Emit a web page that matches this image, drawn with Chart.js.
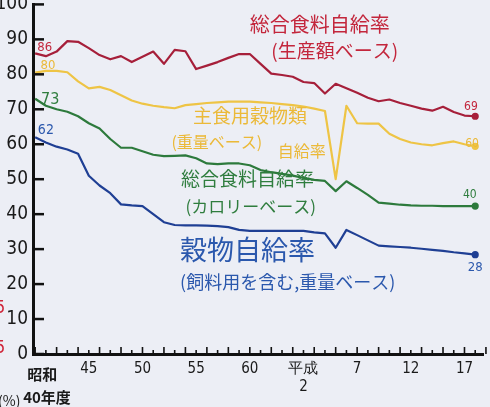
<!DOCTYPE html>
<html>
<head>
<meta charset="utf-8">
<script src="https://cdn.jsdelivr.net/npm/chart.js@4.4.1/dist/chart.umd.min.js"></script>
<style>
  html, body { margin: 0; padding: 0; background: #eceef5; }
  #wrap { position: relative; width: 490px; height: 407px; overflow: hidden; }
  #chart { position: absolute; left: 0; top: -12px; }
</style>
</head>
<body>
<div id="wrap"><canvas id="chart" width="490" height="419"></canvas></div>
<script>
// 年度 (昭和40 = 1965 ... 平成18 = 2006)
const years = [1965, 1966, 1967, 1968, 1969, 1970, 1971, 1972, 1973, 1974,
  1975, 1976, 1977, 1978, 1979, 1980, 1981, 1982, 1983, 1984,
  1985, 1986, 1987, 1988, 1989, 1990, 1991, 1992, 1993, 1994,
  1995, 1996, 1997, 1998, 1999, 2000, 2001, 2002, 2003, 2004,
  2005, 2006];

// 総合食料自給率 (生産額ベース)
const valueBase = [86, 85.2, 86.5, 89.5, 89.3, 87.5, 85.5, 84.3, 85.2, 83.5,
  85, 86.5, 83, 87, 86.6, 81.5, 82.5, 83.5, 84.7, 85.8,
  85.8, 83, 80.2, 79.8, 79.3, 77.8, 77.5, 74.5, 77.3, 76,
  74.7, 73.3, 72.3, 72.8, 71.8, 71, 70.2, 69.6, 70.7, 69.2,
  68.2, 68];

// 主食用穀物類自給率 (重量ベース)
const stapleGrain = [80.5, 81, 81, 80.6, 78, 76, 76.4, 75.5, 74, 72.5,
  71.6, 71, 70.6, 70.3, 71.2, 71.5, 71.8, 72, 72.2, 72.2,
  72.2, 72, 71.8, 71.5, 71.2, 70.8, 70.2, 69.5, 50, 71,
  66, 65.9, 65.9, 63, 61.5, 60.5, 60, 59.7, 60.3, 60.8,
  60, 59.4];

// 総合食料自給率 (カロリーベース)
const calorieBase = [73, 71, 70, 69.3, 68, 66, 64.5, 61.5, 59, 59,
  58, 57, 56.6, 56.7, 56.8, 56, 54.5, 54.3, 54.5, 54.5,
  54, 52.6, 52, 51.5, 51, 50.4, 49.8, 49.5, 46.6, 49.4,
  47.5, 45.5, 43.3, 43, 42.7, 42.5, 42.4, 42.4, 42.3, 42.3,
  42.3, 42.3];

// 穀物自給率 (飼料用を含む, 重量ベース)
const grainAll = [62, 60.5, 59.3, 58.5, 57.3, 51, 48.2, 46, 42.8, 42.5,
  42.3, 40, 37.7, 36.9, 36.8, 36.8, 36.7, 36.6, 36.3, 35.5,
  35.2, 35.2, 35.2, 35.2, 35.2, 35.2, 34.8, 34.5, 30.4, 35.5,
  34, 32.5, 31, 30.8, 30.6, 30.4, 30.1, 29.8, 29.5, 29.1,
  28.8, 28.4];

const tickYears = [1970, 1975, 1980, 1985, 1990, 1995, 2000, 2005];
const tickNames = ['45', '50', '55', '60', ['平成', '2'], '7', '12', '17'];

const RED = '#a61f3a', YEL = '#eec445', GRN = '#2d7a3c', BLU = '#1f3f94';
const JP = "'Noto Sans CJK JP', sans-serif";
const NUM = "'Liberation Sans Narrow', 'DejaVu Sans Condensed', 'DejaVu Sans', sans-serif";

// 手書きの注記 (位置はデータ座標)
const notes = [
  { t: '総合食料自給率', x: 1985.0, y: 94.3, c: '#c3263c', s: 20 },
  { t: '(生産額ベース)', x: 1987.0, y: 86.6, c: '#c3263c', s: 19 },
  { t: '主食用穀物類', x: 1979.7, y: 68.2, c: '#ebb938', s: 19 },
  { t: '(重量ベース)', x: 1977.7, y: 60.8, c: '#ebb938', s: 16 },
  { t: '自給率', x: 1987.6, y: 58.2, c: '#ebb938', s: 16 },
  { t: '総合食料自給率', x: 1978.6, y: 50, c: '#2f7d3e', s: 19 },
  { t: '(カロリーベース)', x: 1979.0, y: 42.3, c: '#2f7d3e', s: 17 },
  { t: '穀物自給率', x: 1978.5, y: 29.8, c: '#2b58ad', s: 27 },
  { t: '(飼料用を含む,重量ベース)', x: 1978.5, y: 20.5, c: '#2b58ad', s: 18 },
  { t: '86', x: 1965.9, y: 87.5, c: '#c3263c', s: 13, a: 'center' },
  { t: '80', x: 1966.2, y: 82.4, c: '#ebb938', s: 13, a: 'center' },
  { t: '73', x: 1966.4, y: 72.7, c: '#2f7d3e', s: 16, a: 'center' },
  { t: '62', x: 1966.0, y: 63.9, c: '#2b58ad', s: 14, a: 'center' },
  { t: '69', x: 2005.6, y: 70.7, c: '#c3263c', s: 12, a: 'center' },
  { t: '60', x: 2005.7, y: 60.2, c: '#ebb938', s: 12, a: 'center' },
  { t: '40', x: 2005.5, y: 45.5, c: '#2f7d3e', s: 12, a: 'center' },
  { t: '28', x: 2006.0, y: 24.7, c: '#2b58ad', s: 13, a: 'center' }
];

function series(vals) {
  return years.map((yr, i) => ({ x: yr, y: vals[i] }));
}

function line(vals, color) {
  return {
    data: series(vals),
    borderColor: color,
    backgroundColor: color,
    borderWidth: 2.2,
    borderJoinStyle: 'round',
    tension: 0,
    pointRadius: vals.map((v, i) => (i === vals.length - 1 ? 2.5 : 0)),
  };
}

const handDrawn = {
  id: 'handDrawn',
  afterDraw(chart) {
    const ctx = chart.ctx;
    const xs = chart.scales.x, ys = chart.scales.y;
    const area = chart.chartArea;
    ctx.save();
    // y目盛り (内向き)
    ctx.strokeStyle = '#111';
    ctx.lineWidth = 2.5;
    ys.ticks.forEach((tk) => {
      const py = ys.getPixelForValue(tk.value);
      ctx.beginPath();
      ctx.moveTo(area.left, py);
      ctx.lineTo(area.left + 11, py);
      ctx.stroke();
    });
    // x目盛り (上向き)
    ctx.lineWidth = 1.6;
    years.concat([2007]).forEach((yr, i) => {
      const px = xs.getPixelForValue(yr);
      ctx.beginPath();
      ctx.moveTo(px, area.bottom);
      ctx.lineTo(px, area.bottom - (i % 2 ? 4 : 7));
      ctx.stroke();
    });
    // 注記
    ctx.textBaseline = 'middle';
    notes.forEach((n) => {
      ctx.fillStyle = n.c;
      ctx.font = n.s + 'px ' + (/^\d+$/.test(n.t) ? NUM : JP);
      ctx.textAlign = n.a || 'left';
      ctx.fillText(n.t, xs.getPixelForValue(n.x), ys.getPixelForValue(n.y));
    });
    // 軸の見出し
    const x0 = xs.getPixelForValue(1965);
    ctx.fillStyle = '#1a1a1a';
    ctx.textAlign = 'left';
    ctx.font = 'bold 15px ' + JP;
    ctx.fillText('昭和', x0 - 8, area.bottom + 20);
    ctx.fillText('40年度', x0 - 12, area.bottom + 43);
    ctx.font = '14px ' + JP;
    ctx.fillText('(%)', -2, area.bottom + 47);
    ctx.fillStyle = '#d0263a';
    ctx.font = '18px ' + NUM;
    ctx.fillText('5', -5, ys.getPixelForValue(13));
    ctx.fillText('5', -5, ys.getPixelForValue(1.5));
    ctx.restore();
  }
};

new Chart(document.getElementById('chart'), {
  type: 'line',
  data: {
    datasets: [
      line(valueBase, RED),
      line(stapleGrain, YEL),
      line(calorieBase, GRN),
      line(grainAll, BLU)
    ]
  },
  options: {
    responsive: false,
    animation: false,
    layout: { padding: { top: 12, left: 0, right: 0, bottom: 0 } },
    plugins: { legend: { display: false }, tooltip: { enabled: false } },
    scales: {
      x: {
        type: 'linear',
        min: 1964.8,
        max: 2006.8,
        afterBuildTicks: (s) => { s.ticks = tickYears.map((v) => ({ value: v })); },
        afterFit: (s) => { s.height = 53; },
        grid: { display: false, drawTicks: false },
        border: { display: true, color: '#111', width: 3 },
        ticks: {
          padding: 6,
          color: '#1a1a1a',
          font: { family: NUM, size: 15 },
          maxRotation: 0,
          autoSkip: false,
          callback: (v) => tickNames[tickYears.indexOf(v)]
        }
      },
      y: {
        min: 0,
        max: 100,
        afterFit: (s) => { s.width = 33; },
        grid: { display: false, drawTicks: false },
        border: { display: true, color: '#111', width: 3 },
        ticks: {
          stepSize: 10,
          padding: 5,
          color: '#1a1a1a',
          font: { family: NUM, size: 19 }
        }
      }
    }
  },
  plugins: [handDrawn]
});
</script>
</body>
</html>
